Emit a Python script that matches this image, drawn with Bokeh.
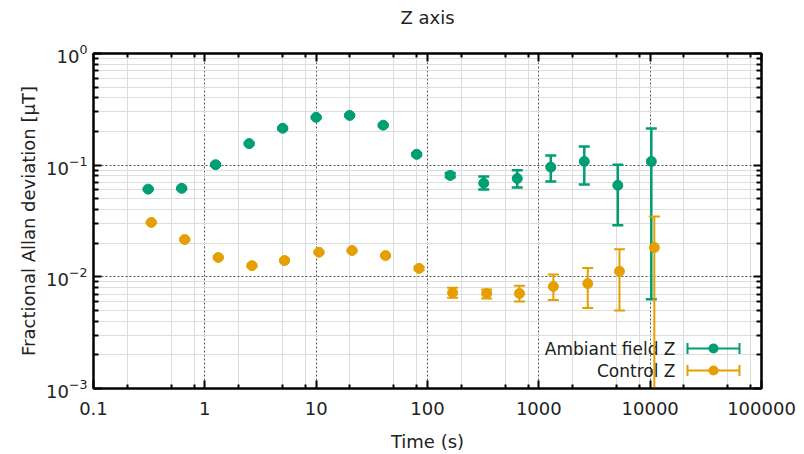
from bokeh.plotting import figure
from bokeh.models import (Range1d, FixedTicker, LogAxis, CustomJSTickFormatter, Label,
                          Arrow, TeeHead, BoxAnnotation, ColumnDataSource)
from bokeh.embed import file_html
from bokeh.resources import INLINE

# ---------------- data ----------------
tau_ambient = [0.31, 0.62, 1.25, 2.5, 5.0, 10, 20, 40, 80, 160, 320, 640, 1280, 2560, 5120, 10240]
adev_ambient = [0.061, 0.062, 0.101, 0.156, 0.214, 0.268, 0.279, 0.228, 0.125, 0.081,
                0.069, 0.076, 0.096, 0.108, 0.066, 0.108]
low_ambient = [0.060, 0.061, 0.099, 0.153, 0.210, 0.263, 0.274, 0.223, 0.122, 0.078,
               0.0606, 0.063, 0.0714, 0.067, 0.029, 0.0063]
high_ambient = [0.062, 0.063, 0.103, 0.159, 0.218, 0.273, 0.284, 0.233, 0.128, 0.085,
                0.079, 0.090, 0.122, 0.147, 0.101, 0.213]

tau_control = [0.33, 0.66, 1.32, 2.65, 5.2, 10.6, 21, 42, 84, 168, 340, 670, 1350, 2750, 5300, 10900]
adev_control = [0.0307, 0.0216, 0.0149, 0.0126, 0.0140, 0.0166, 0.0172, 0.0155, 0.0119, 0.0072,
                0.0071, 0.0071, 0.0082, 0.0087, 0.0112, 0.0183]
low_control = [0.0302, 0.0212, 0.0146, 0.0123, 0.0137, 0.0163, 0.0169, 0.0152, 0.0115, 0.0065,
               0.0064, 0.0060, 0.0062, 0.00525, 0.0050, 0.0008]
high_control = [0.0312, 0.0220, 0.0152, 0.0129, 0.0143, 0.0169, 0.0175, 0.0158, 0.0123, 0.0080,
                0.0077, 0.0083, 0.0105, 0.0120, 0.0177, 0.0347]

chart_title = "Z axis"
series_labels = ["Ambiant field Z", "Control Z"]
x_major = [0.1, 1, 10, 100, 1000, 10000, 100000]
x_minor_mult = [2, 5, 8]
y_major = [0.001, 0.01, 0.1, 1]
y_minor_mult = [2, 3, 4, 5, 6, 7, 8, 9]

# ---------------- style ----------------
FONT = "DejaVu Sans"
TXT = "#222222"
GREEN = "#009e73"
ORANGE = "#e69f00"

x_minor = [m * d for d in x_major[:-1] for m in x_minor_mult]
y_minor = [m * d for d in y_major[:-1] for m in y_minor_mult]

p = figure(width=804, height=454, x_axis_type="log", y_axis_type="log",
           x_range=Range1d(0.1, 1e5), y_range=Range1d(1e-3, 1),
           output_backend="svg", toolbar_location=None,
           min_border_left=93, min_border_right=43, min_border_top=53, min_border_bottom=66)
p.background_fill_color = "white"
p.border_fill_color = "white"
p.outline_line_color = "black"
p.outline_line_width = 2

xt = FixedTicker(ticks=x_major, minor_ticks=x_minor)
yt = FixedTicker(ticks=y_major, minor_ticks=y_minor)
xfmt = CustomJSTickFormatter(code="return tick < 1 ? tick.toFixed(1) : tick.toFixed(0);")
blank = CustomJSTickFormatter(code="return ' ';")

xa = p.xaxis[0]
ya = p.yaxis[0]
xa.ticker = xt
xa.formatter = xfmt
ya.ticker = yt
for ax in (xa, ya):
    ax.axis_line_color = "black"
    ax.axis_line_width = 2
    ax.major_tick_in = 8
    ax.major_tick_out = 0
    ax.major_tick_line_width = 2
    ax.major_tick_line_color = "black"
    ax.minor_tick_out = 0
    ax.minor_tick_line_width = 2
    ax.minor_tick_line_color = "black"
    ax.major_label_text_font = FONT
    ax.major_label_text_font_size = "18px"
    ax.major_label_text_color = TXT
    ax.axis_label_text_font = FONT
    ax.axis_label_text_font_size = "18px"
    ax.axis_label_text_font_style = "normal"
    ax.axis_label_text_color = TXT
xa.minor_tick_in = 4
ya.minor_tick_in = 5
xa.major_label_standoff = 13
ya.major_label_standoff = 6
xa.axis_label = "Time (s)"
ya.axis_label = "Fractional Allan deviation [µT]"
xa.axis_label_standoff = 13
ya.axis_label_standoff = 4

# mirror axes (ticks only); the top one carries the chart title
for loc, tk, mi in (("above", xt, 4), ("right", yt, 5)):
    ax = LogAxis(ticker=tk, formatter=blank, major_label_text_font_size="2px",
                 major_label_standoff=0,
                 axis_line_color="black", axis_line_width=2,
                 major_tick_in=8, major_tick_out=0, major_tick_line_width=2,
                 minor_tick_in=mi, minor_tick_out=0, minor_tick_line_width=2)
    if loc == "above":
        ax.axis_label = chart_title
        ax.axis_label_standoff = 20
        ax.axis_label_text_font = FONT
        ax.axis_label_text_font_size = "18px"
        ax.axis_label_text_font_style = "normal"
        ax.axis_label_text_color = TXT
    p.add_layout(ax, loc)

p.xgrid.ticker = xt
p.ygrid.ticker = yt
for g in (p.xgrid, p.ygrid):
    g.grid_line_color = "#555555"
    g.grid_line_dash = "2 2"
    g.grid_line_width = 1
    g.minor_grid_line_color = "#dddddd"
    g.minor_grid_line_width = 1

# ---------------- data glyphs ----------------
for tau, val, lo, hi, col, lw in ((tau_ambient, adev_ambient, low_ambient, high_ambient, GREEN, 2.5),
                                  (tau_control, adev_control, low_control, high_control, ORANGE, 2)):
    src = ColumnDataSource(dict(x=tau, y=val, lo=lo, hi=hi))
    p.segment(x0="x", y0="lo", x1="x", y1="hi", source=src, line_color=col, line_width=lw)
    p.scatter(x="x", y="lo", source=src, marker="dash", size=11, line_color=col, line_width=lw)
    p.scatter(x="x", y="hi", source=src, marker="dash", size=11, line_color=col, line_width=lw)
    p.scatter(x="x", y="y", source=src, marker="circle", size=10, fill_color=col, line_color=col)

# ---------------- legend (screen units, relative to frame) ----------------
FL, FB = 93, 388
for i, (lab, col) in enumerate(zip(series_labels, (GREEN, ORANGE))):
    cy = 348 + 22 * i
    p.add_layout(Label(x=675 - FL, y=FB - cy, x_units="screen", y_units="screen", text=lab,
                       text_align="right", text_baseline="middle", text_font=FONT,
                       text_font_size="17px", text_color=TXT, level="underlay"))
    p.add_layout(Arrow(start=TeeHead(size=11, line_color=col, line_width=2),
                       end=TeeHead(size=11, line_color=col, line_width=2),
                       x_start=687 - FL, y_start=FB - cy, x_end=739 - FL, y_end=FB - cy,
                       start_units="screen", end_units="screen", line_color=col, line_width=2))
    p.add_layout(BoxAnnotation(left=713 - FL - 5, right=713 - FL + 5, bottom=FB - cy - 5, top=FB - cy + 5,
                               left_units="screen", right_units="screen",
                               bottom_units="screen", top_units="screen",
                               fill_color=col, fill_alpha=1, line_color=None, border_radius=5))

open("out.html", "w").write(file_html(p, INLINE))
